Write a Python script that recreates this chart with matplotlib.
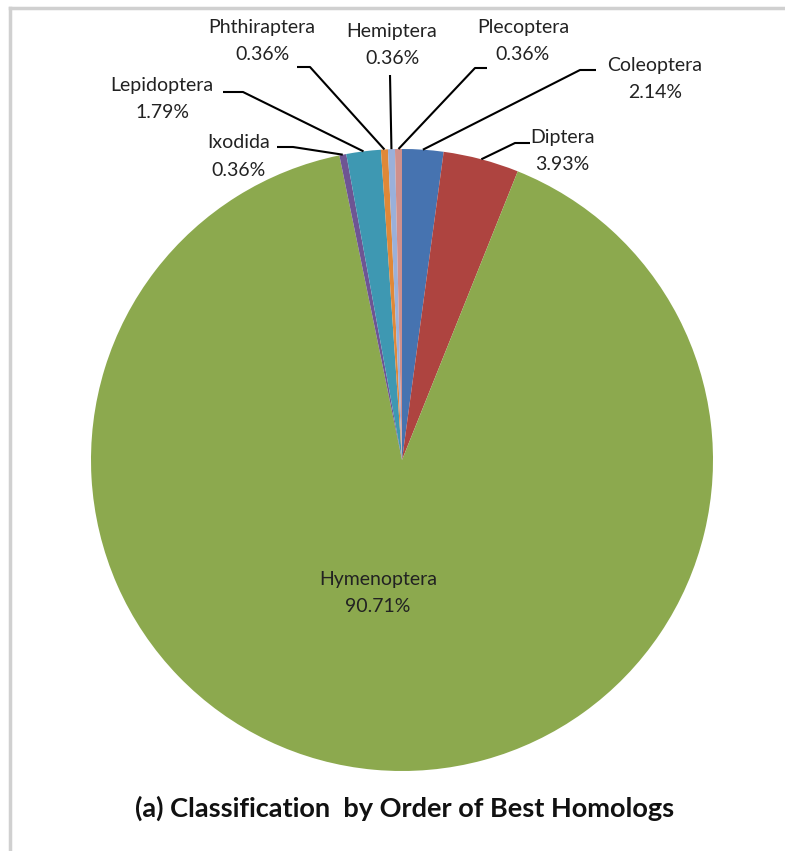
import numpy as np
import matplotlib
matplotlib.use("Agg")
import matplotlib.pyplot as plt

W, H = 785, 851

categories = ["Coleoptera", "Diptera", "Hymenoptera", "Ixodida", "Lepidoptera",
              "Phthiraptera", "Hemiptera", "Plecoptera"]
percents = [2.14, 3.93, 90.71, 0.36, 1.79, 0.36, 0.36, 0.36]
colors = ["#4673B0", "#AE4440", "#8CA94E", "#6E5593", "#3E98B2",
          "#E08838", "#9AB0DA", "#D0908C"]
title = "(a) Classification  by Order of Best Homologs"

# layout (pixel coordinates, y from top)
center = (402, 460)
radius = 311
# label text center x, first-line y, and elbow segment (start x, end x, y); None = no leader
label_layout = {
    "Coleoptera":   (655, 66, (596, 580, 70)),
    "Diptera":      (562, 138, (530, 515, 143)),
    "Plecoptera":   (523, 28, (487, 475, 68)),
    "Hemiptera":    (392, 32, (390, 390, 75)),
    "Phthiraptera": (262, 27, (297, 310, 67)),
    "Lepidoptera":  (162, 86, (223, 243, 92)),
    "Ixodida":      (239, 143, (277, 293, 147)),
    "Hymenoptera":  (378, 580, None),
}
line_gap = 27
FONT = "Lato"
fs = 14

fig = plt.figure(figsize=(W / 100, H / 100), dpi=100)
ax = fig.add_axes([0, 0, 1, 1])

# y inverted: startangle -90 in data = top visually; counterclock=True in data = clockwise visually
wedges, _ = ax.pie(percents, colors=colors, center=center, radius=radius,
                   startangle=-90, counterclock=True, frame=True,
                   wedgeprops=dict(linewidth=0))
ax.set_xlim(0, W)
ax.set_ylim(H, 0)
ax.set_aspect("equal")
ax.axis("off")

for w, name, pct in zip(wedges, categories, percents):
    cx, y1, elbow = label_layout[name]
    ax.text(cx, y1, name, ha="center", va="center", fontsize=fs, family=FONT, color="#222222")
    ax.text(cx, y1 + line_gap, f"{pct:.2f}%", ha="center", va="center", fontsize=fs,
            family=FONT, color="#222222")
    if elbow is None:
        continue
    mid = np.deg2rad((w.theta1 + w.theta2) / 2)
    ex = w.center[0] + w.r * np.cos(mid)
    ey = w.center[1] + w.r * np.sin(mid)
    xs = [elbow[0], elbow[1], ex]
    ys = [elbow[2], elbow[2], ey]
    ax.plot(xs, ys, color="black", lw=1.5, solid_capstyle="butt")

ax.text(405, 808, title, ha="center", va="center", fontsize=19.5, fontweight="bold",
        family=FONT, color="#111111")

# frame border (top and left visible)
ax.plot([10, W], [7.5, 7.5], color="#D0D0D0", lw=2.5, clip_on=False)
ax.plot([10, 10], [7.5, H], color="#D0D0D0", lw=2.5, clip_on=False)

fig.savefig("out.png", dpi=100)
